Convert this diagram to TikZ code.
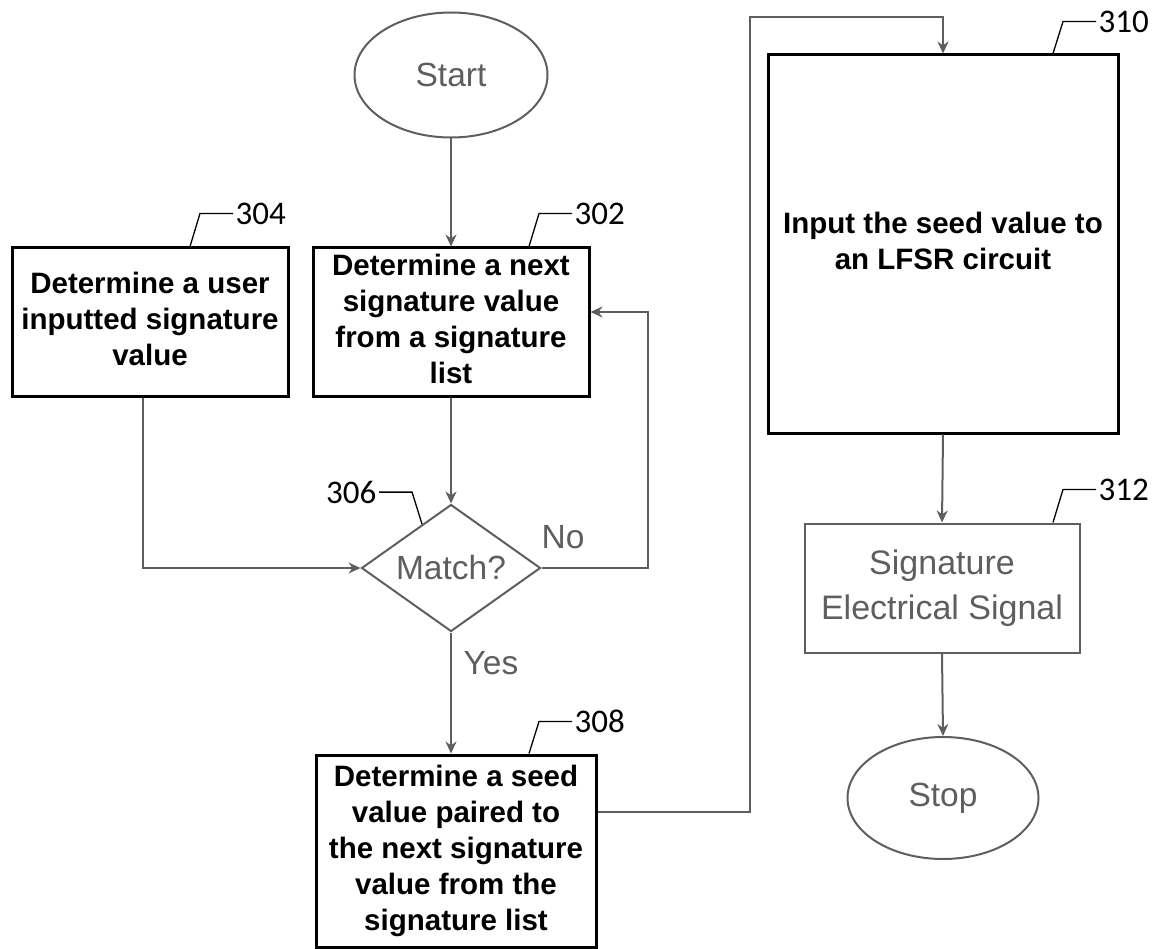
\documentclass[tikz,border=0pt]{standalone}
\usepackage{fontspec}
\setmainfont{Liberation Sans}
\newfontfamily\refnumfont{Carlito}
\usetikzlibrary{positioning,shapes.geometric,arrows.meta,calc}

\begin{document}
\begin{tikzpicture}[x=1pt,y=-1pt]
       \definecolor{darkline}{HTML}{000000}
       \definecolor{greyline}{HTML}{5E5E5E}
       \newcommand{\steptext}[1]{\begin{tabular}{c}#1\end{tabular}}
       \tikzstyle{block}     = [rectangle, draw=darkline, line width=3pt, fill=white, inner sep=0pt, font=\fontsize{29.5}{36}\selectfont\bfseries]
       \tikzstyle{greyblock} = [rectangle, draw=greyline, line width=2pt, text=greyline, inner sep=0pt, font=\fontsize{34}{45}\selectfont]
       \tikzstyle{terminal}  = [ellipse, draw=greyline, line width=2pt, text=greyline, inner sep=0pt, font=\fontsize{33.5}{38}\selectfont]
       \tikzstyle{decision}  = [diamond, aspect=1.4, draw=greyline, line width=2pt, text=greyline, inner sep=0pt, font=\fontsize{33.5}{38}\selectfont]
       \tikzstyle{answer}    = [text=greyline, inner sep=1pt, font=\fontsize{33.5}{38}\selectfont]
       \tikzstyle{connector} = [line width=2pt, draw=greyline, -{Stealth[length=12pt,width=11pt]}]
       \tikzstyle{leader}    = [line width=1.3pt, draw=darkline]
       \tikzstyle{refnum}    = [inner sep=2pt, font=\refnumfont\fontsize{33}{33}\selectfont]

       \useasboundingbox (0,0) rectangle (1164,949);

       \node [terminal, minimum width=193pt, minimum height=125pt] (start) at (451,75) {Start};
       \node [block, minimum width=276pt, minimum height=148pt] (user) at (150,322) {
         \steptext{Determine a user\\inputted signature\\value}
       };
       \node [block, minimum width=276pt, minimum height=148pt] (next) at (451,322) {
         \steptext{Determine a next\\signature value\\from a signature\\list}
       };
       \node [decision, minimum width=179pt, minimum height=127pt] (match) at (451,568) {Match?};
       \node [answer] (nolabel)  at (563,537) {No};
       \node [answer] (yeslabel) at (491,663) {Yes};
       \node [block, minimum width=280pt, minimum height=192pt] (seed) at (456,851) {
         \steptext{Determine a seed\\value paired to\\the next signature\\value from the\\signature list}
       };
       \node [block, minimum width=350pt, minimum height=378pt] (lfsr) at (943,244) {
         \steptext{Input the seed value to\\an LFSR circuit}
       };
       \node [greyblock, minimum width=275pt, minimum height=129pt] (signal) at (942,588) {
         \begin{tabular}{c}Signature\\Electrical Signal\end{tabular}
       };
       \node [terminal, minimum width=191pt, minimum height=122pt] (stop) at (943,798) {Stop};

       % reference numerals
       \draw [leader] ([xshift=40pt]user.north) -- ++(10,-33) -- ++(33,0) node [refnum, right] (ref304) {304};
       \draw [leader] ([xshift=78pt]next.north) -- ++(10,-33) -- ++(33,0) node [refnum, right] (ref302) {302};
       \draw [leader] ($(match.north)!0.32!(match.west)$) -- ++(-10,-32) -- ++(-33,0) node [refnum, left] (ref306) {306};
       \draw [leader] ([xshift=73pt]seed.north) -- ++(10,-32) -- ++(33,0) node [refnum, right] (ref308) {308};
       \draw [leader] ([xshift=110pt]lfsr.north) -- ++(10,-32) -- ++(33,0) node [refnum, right] (ref310) {310};
       \draw [leader] ([xshift=111pt]signal.north) -- ++(10,-33) -- ++(33,0) node [refnum, right] (ref312) {312};

       \coordinate (noturn)   at (648,568);
       \coordinate (seedturn) at (750,17);
       \draw [connector] (start.south) -- (next.north);
       \draw [connector] (next.south) -- (match.north);
       \draw [connector] ([xshift=-7pt]user.south) |- (match.west);
       \draw [connector] (match.east) -- (noturn) |- ([yshift=10pt]next.east);
       \draw [connector] (match.south) -- (match.south |- seed.north);
       \draw [connector] ([yshift=39pt]seed.east) -| (seedturn) -| (lfsr.north);
       \draw [connector] (lfsr.south) -- (signal.north);
       \draw [connector] (signal.south) -- (stop.north);
\end{tikzpicture}
\end{document}
